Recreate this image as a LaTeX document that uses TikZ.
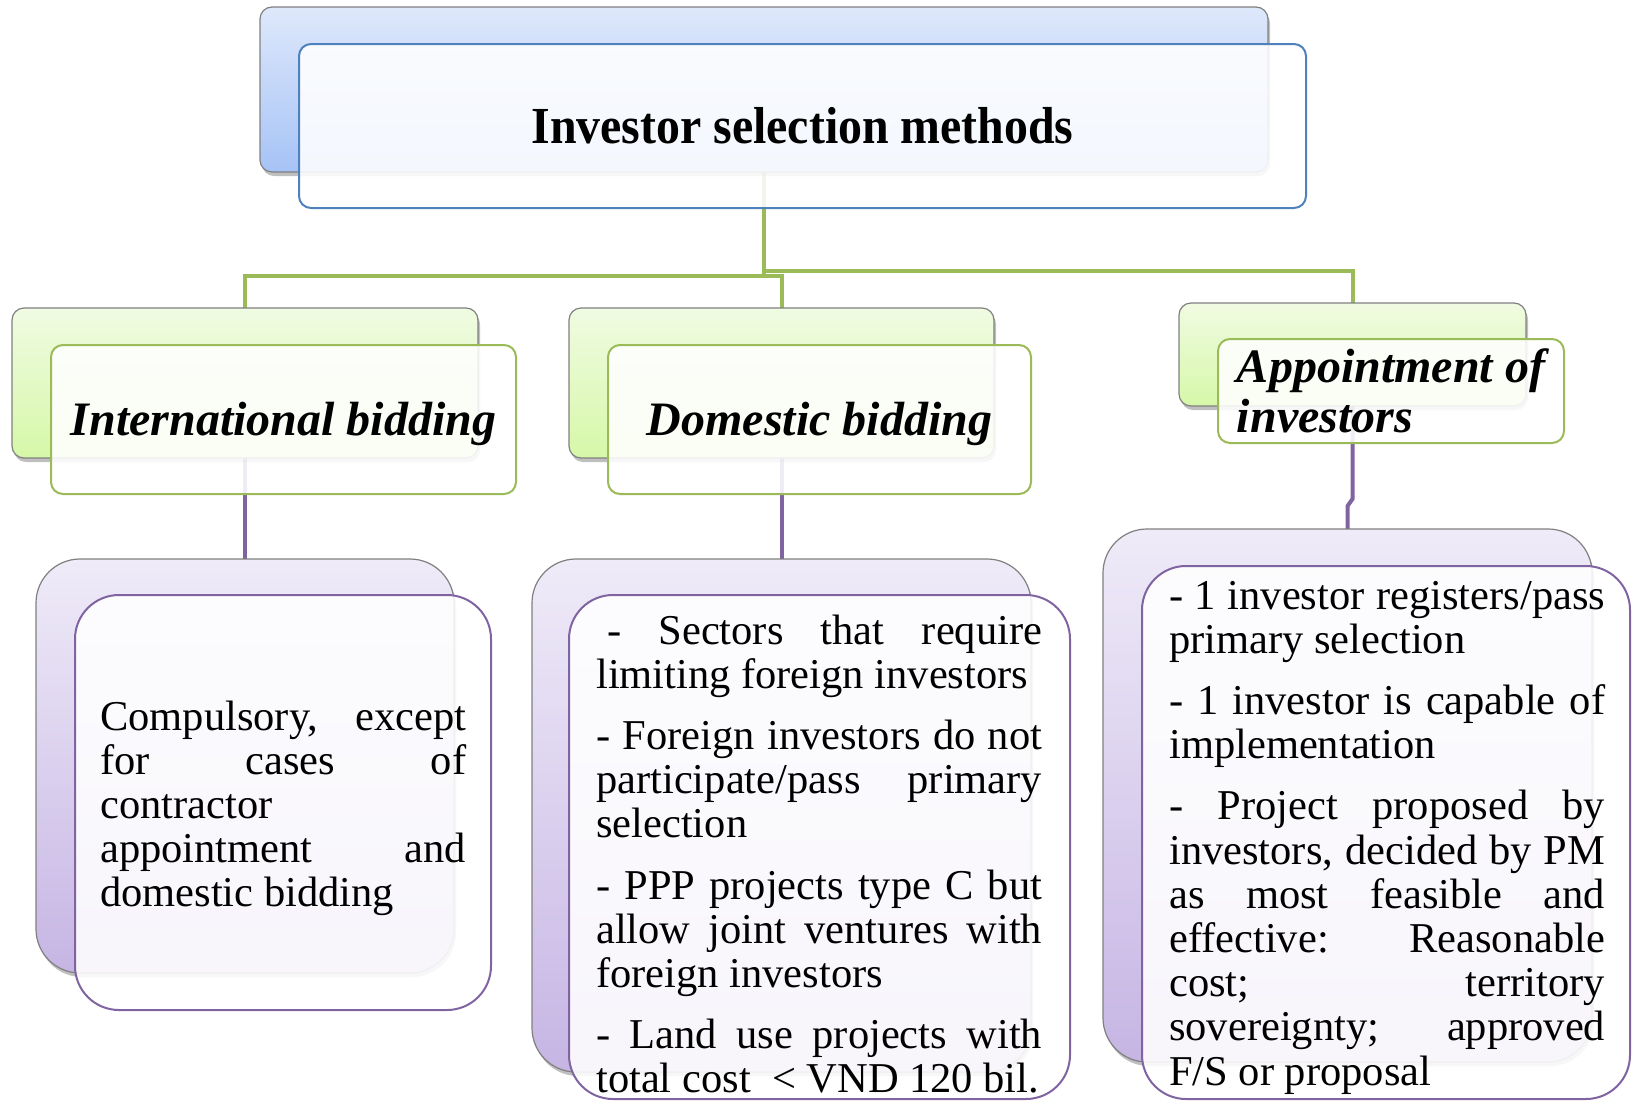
\documentclass[tikz,border=0pt]{standalone}
\usepackage{fontspec}
\setmainfont{Liberation Serif}
\newfontfamily\titlefont[FakeStretch=0.92]{Liberation Serif}
\usetikzlibrary{shadows,fit}
\definecolor{bluebd}{HTML}{4F81BD}
\definecolor{greenbd}{HTML}{9BBB59}
\definecolor{purplebd}{HTML}{8064A2}
\definecolor{backgray}{HTML}{808080}
\definecolor{blueT}{HTML}{DEE8FB}
\definecolor{blueB}{HTML}{A6C3F6}
\definecolor{greenT}{HTML}{F0FBE2}
\definecolor{greenB}{HTML}{D6F8A8}
\definecolor{purpT}{HTML}{EFEBF8}
\definecolor{purpB}{HTML}{C6B5E4}
\newcommand{\bodyfont}{\fontsize{42.5}{44.2}\selectfont\hyphenpenalty=10000\tolerance=10000\setlength{\parskip}{17pt}\setlength{\parindent}{0pt}}
\begin{document}
\begin{tikzpicture}[x=1pt,y=-1pt,
  backbox/.style={inner sep=0pt, draw=backgray, line width=1.2pt,
    drop shadow={shadow xshift=2pt, shadow yshift=-4pt, opacity=0.25, fill=black}},
  frontbox/.style={inner sep=0pt, line width=2pt, fill=white, fill opacity=0.88},
  smallr/.style={rounded corners=12pt},
  bigr/.style={rounded corners=44pt},
  blueback/.style={top color=blueT, bottom color=blueB},
  greenback/.style={top color=greenT, bottom color=greenB},
  purpback/.style={top color=purpT, bottom color=purpB},
  gline/.style={draw=greenbd, line width=4pt, line join=miter},
  pline/.style={draw=purplebd, line width=4pt, line join=miter},
  headtxt/.style={font=\fontsize{48}{50}\selectfont\bfseries\itshape, inner sep=0pt},
  titletxt/.style={font=\titlefont\fontsize{52}{56}\selectfont\bfseries, inner sep=0pt},
  bodytxt/.style={inner sep=0pt, anchor=base west}
]
\useasboundingbox (0,0) rectangle (1632,1101);

% junction coordinates
\coordinate (jl) at (245,276);
\coordinate (jm) at (781.5,276);
\coordinate (jr) at (1352.5,271);
\coordinate (kp1) at (1352.5,499);
\coordinate (kp2) at (1347.5,506);

% back boxes geometry
\path node[inner sep=0pt, fit={(260,7) (1268,172)}] (topb) {};
\path node[inner sep=0pt, fit={(12,308) (478,458)}] (ilb) {};
\path node[inner sep=0pt, fit={(569,308) (994,458)}] (dmb) {};
\path node[inner sep=0pt, fit={(1179,303) (1526,406)}] (apb) {};
\path node[inner sep=0pt, fit={(36,559) (454,973)}] (clb) {};
\path node[inner sep=0pt, fit={(532,559) (1031,1072)}] (dlb) {};
\path node[inner sep=0pt, fit={(1103,529) (1592,1062)}] (arb) {};

% connectors
\draw[gline] (topb.south) |- (jl) -- (ilb.north);
\draw[gline] (topb.south) |- (jm) -- (dmb.north);
\draw[gline] (topb.south) |- (jr) -- (apb.north);
\draw[pline] (ilb.south) -- (clb.north);
\draw[pline] (dmb.south) -- (dlb.north);
\draw[pline] (apb.south) -- (kp1) -- (kp2) -- (arb.north);

% back boxes
\node[backbox, smallr, blueback, fit={(260,7) (1268,172)}] (topbk) {};
\node[backbox, smallr, greenback, fit={(12,308) (478,458)}] (ilbk) {};
\node[backbox, smallr, greenback, fit={(569,308) (994,458)}] (dmbk) {};
\node[backbox, smallr, greenback, fit={(1179,303) (1526,406)}] (apbk) {};
\node[backbox, bigr, purpback, fit={(36,559) (454,973)}] (clbk) {};
\node[backbox, bigr, purpback, fit={(532,559) (1031,1072)}] (dlbk) {};
\node[backbox, bigr, purpback, fit={(1103,529) (1592,1062)}] (arbk) {};

% front boxes
\node[frontbox, smallr, draw=bluebd, fit={(299,44) (1306,208)}] (topf) {};
\node[frontbox, smallr, draw=greenbd, fit={(51,345) (516,494)}] (ilf) {};
\node[frontbox, smallr, draw=greenbd, fit={(608,345) (1031,494)}] (dmf) {};
\node[frontbox, smallr, draw=greenbd, fit={(1218,339) (1564,443)}] (apf) {};
\node[frontbox, bigr, draw=purplebd, fit={(75,595) (491,1010)}] (clf) {};
\node[frontbox, bigr, draw=purplebd, fit={(569,595) (1070,1099)}] (dlf) {};
\node[frontbox, bigr, draw=purplebd, fit={(1142,566) (1630,1099)}] (arf) {};

% texts
\node[titletxt] (title) at (topf.center) {Investor selection methods};
\node[headtxt, yshift=-4pt] (iltxt) at (ilf.center) {International bidding};
\node[headtxt, yshift=-4pt] (dmtxt) at (dmf.center) {Domestic bidding};
\node[headtxt, align=left] (aptxt) at (apf.center) {Appointment of\\investors};

\node[bodytxt] (cltxt) at (100,730) {\parbox[t]{366pt}{\bodyfont
Compulsory, except\linebreak for cases of\linebreak contractor\\
appointment and\linebreak domestic bidding\par}};

\node[bodytxt] (dltxt) at (596,644) {\parbox[t]{446pt}{\bodyfont
\hspace*{11pt}- Sectors that require\linebreak limiting foreign investors\par
- Foreign investors do not\linebreak participate/pass primary\linebreak selection\par
- PPP projects type C but\linebreak allow joint ventures with\linebreak foreign investors\par
- Land use projects with\linebreak total cost~~< VND 120 bil.\par}};

\node[bodytxt] (artxt) at (1169,609) {\parbox[t]{436pt}{\bodyfont
- 1 investor registers/pass\linebreak primary selection\par
- 1 investor is capable of\linebreak implementation\par
- Project proposed by\linebreak investors, decided by PM\linebreak as most feasible and\linebreak effective: Reasonable\linebreak cost; territory\linebreak sovereignty; approved\linebreak F/S or proposal\par}};
\end{tikzpicture}
\end{document}
